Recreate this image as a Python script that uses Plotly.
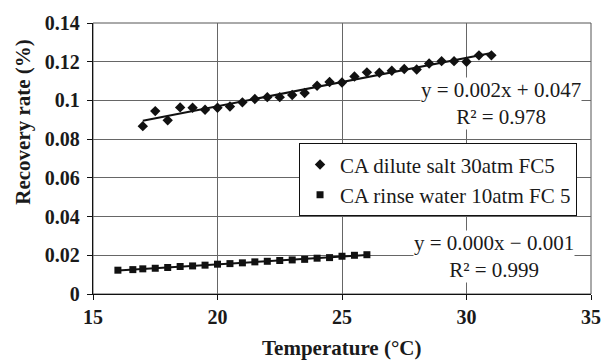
import numpy as np
import plotly.graph_objects as go

# --- data ---
temp_salt = [17, 17.5, 18, 18.5, 19, 19.5, 20, 20.5, 21, 21.5, 22, 22.5, 23, 23.5, 24,
             24.5, 25, 25.5, 26, 26.5, 27, 27.5, 28, 28.5, 29, 29.5, 30, 30.5, 31]
rate_salt = [0.0867, 0.0945, 0.0897, 0.0964, 0.0962, 0.0952, 0.0962, 0.0969, 0.0990, 0.1007,
             0.1017, 0.1017, 0.1028, 0.1038, 0.1076, 0.1095, 0.1093, 0.1124, 0.1145, 0.1143,
             0.1153, 0.1162, 0.1160, 0.1191, 0.1203, 0.1203, 0.1200, 0.1233, 0.1233]
temp_rinse = [16, 16.6, 17, 17.5, 18, 18.5, 19, 19.5, 20, 20.5, 21, 21.5, 22, 22.5, 23,
              23.5, 24, 24.5, 25, 25.5, 26]
rate_rinse = [0.0123, 0.0126, 0.0130, 0.0133, 0.0137, 0.0142, 0.0145, 0.0149, 0.0154, 0.0157,
              0.0161, 0.0166, 0.0169, 0.0173, 0.0176, 0.0179, 0.0185, 0.0188, 0.0195, 0.0200,
              0.0203]
name_salt = "CA dilute salt 30atm FC5"
name_rinse = "CA rinse water 10atm FC 5"
eq_salt = ["y = 0.002x + 0.047", "R² = 0.978"]
eq_rinse = ["y = 0.000x − 0.001", "R² = 0.999"]
x_ticks = [15, 20, 25, 30, 35]
y_ticks = [0, 0.02, 0.04, 0.06, 0.08, 0.1, 0.12, 0.14]
y_tick_text = ["0", "0.02", "0.04", "0.06", "0.08", "0.1", "0.12", "0.14"]

SERIF = "Liberation Serif"

def trend(xs, ys):
    k, b = np.polyfit(xs, ys, 1)
    xx = [min(xs), max(xs)]
    return xx, [k * v + b for v in xx]

fig = go.Figure()

tx, ty = trend(temp_salt, rate_salt)
fig.add_trace(go.Scatter(x=tx, y=ty, mode="lines", line=dict(color="#111", width=2),
                         showlegend=False, hoverinfo="skip"))
tx2, ty2 = trend(temp_rinse, rate_rinse)
fig.add_trace(go.Scatter(x=tx2, y=ty2, mode="lines", line=dict(color="#111", width=2),
                         showlegend=False, hoverinfo="skip"))

fig.add_trace(go.Scatter(x=temp_salt, y=rate_salt, mode="markers", name=name_salt,
                         marker=dict(symbol="diamond", size=8, color="#111")))
fig.add_trace(go.Scatter(x=temp_rinse, y=rate_rinse, mode="markers", name=name_rinse,
                         marker=dict(symbol="square", size=7, color="#111")))

L, R, T, B = 92.7, 601.0, 23.3, 294.0
W, H = 612, 361

axis_common = dict(showline=True, linecolor="#111", linewidth=1.3, ticks="outside",
                   ticklen=5, tickcolor="#111", showgrid=True, gridcolor="#666",
                   gridwidth=1, zeroline=False,
                   tickfont=dict(family=SERIF, size=20, color="#1a1a1a"))

fig.update_xaxes(range=[15, 35], tickvals=x_ticks,
                 ticktext=["<b>%d</b>" % v for v in x_ticks], **axis_common)
fig.update_yaxes(range=[0, 0.14], tickvals=y_ticks, ticklabelstandoff=3,
                 ticktext=["<b>%s</b>" % s for s in y_tick_text], **axis_common)

# frame (top/right border)
fig.add_shape(type="rect", xref="paper", yref="paper", x0=0, x1=1, y0=0, y1=1,
              line=dict(color="#555", width=1), layer="below")

def dx(px):
    return 15 + (px - L) / (R - L) * 20

def dy(py):
    return (B - py) / (B - T) * 0.14

ann_font = dict(family=SERIF, size=21, color="#1a1a1a")
for lines, (cx, cy) in [(eq_salt, (509, 104)), (eq_rinse, (502, 257))]:
    fig.add_annotation(x=dx(cx), y=dy(cy), text="<br>".join(lines), showarrow=False,
                       font=ann_font, bgcolor="white", borderpad=0, align="center",
                       xanchor="center", yanchor="middle")

# axis titles
title_font = dict(family=SERIF, size=21, color="#1a1a1a")
fig.add_annotation(xref="paper", yref="paper", x=(21.7 - L) / (R - L), y=(B - 121.5) / (B - T),
                   text="<b>Recovery rate (%)</b>", textangle=-90, showarrow=False,
                   font=title_font, xanchor="center", yanchor="middle")
fig.add_annotation(xref="paper", yref="paper", x=(346.7 - L) / (R - L), y=(B - 348) / (B - T),
                   text="<b>Temperature (°C)</b>", showarrow=False, font=title_font,
                   xanchor="center", yanchor="middle")

fig.update_layout(
    width=W, height=H,
    font=dict(family=SERIF, color="#1a1a1a"),
    margin=dict(l=L, r=W - R, t=T, b=H - B, pad=0),
    paper_bgcolor="white", plot_bgcolor="white",
    showlegend=True,
    legend=dict(x=(303 - L) / (R - L), y=(B - 143.5) / (B - T), xanchor="left", yanchor="top",
                bgcolor="white", bordercolor="#111", borderwidth=1,
                font=dict(family=SERIF, size=21, color="#1a1a1a"),
                tracegroupgap=0, itemsizing="trace"),
)

fig.write_html("out.html")
